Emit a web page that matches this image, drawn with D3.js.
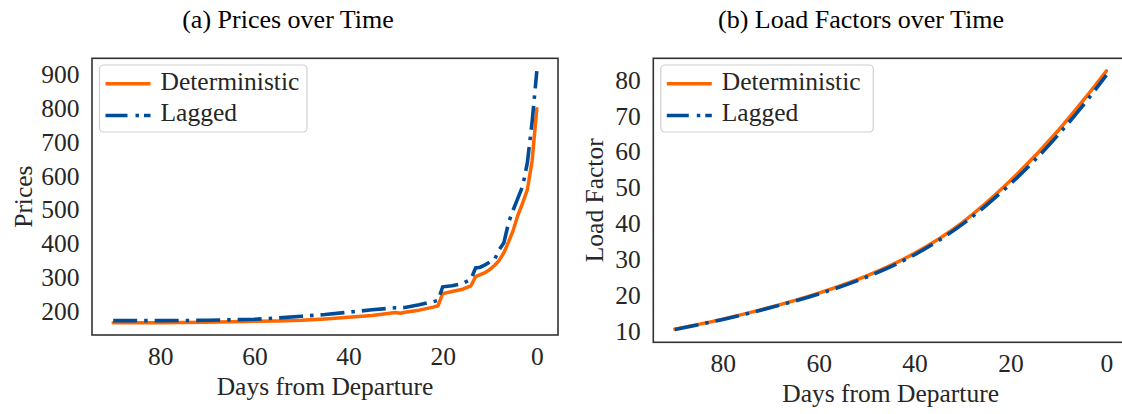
<!DOCTYPE html>
<html>
<head>
<meta charset="utf-8">
<script src="https://cdn.jsdelivr.net/npm/d3@7"></script>
<style>
  body { margin: 0; background: #fff; }
</style>
</head>
<body>
<svg id="chart" width="1122" height="414"></svg>
<script>
// prices
const priceDays = [90, 80, 70, 60, 55, 50, 45, 40, 35, 30, 29, 28, 25, 22, 21, 20, 18, 16, 14, 13, 12, 11, 10, 9, 8, 7, 6, 5, 4, 3, 2, 1, 0];
const priceDeterministic = [166, 166, 167, 170, 171, 173, 177, 182, 187, 196, 194, 197, 203, 212, 216, 252, 258, 264, 275, 302, 308, 314, 323, 335, 350, 373, 405, 440, 485, 520, 560, 645, 799];
const priceLagged = [172, 172, 173, 176, 180, 185, 190, 197, 204, 210, 210, 211, 219, 228, 232, 272, 275, 281, 294, 328, 330, 337, 345, 352, 382, 402, 462, 500, 535, 570, 640, 760, 910];
const priceTicks = [200, 300, 400, 500, 600, 700, 800, 900];

// load factors
const lfDays = [90, 80, 70, 60, 50, 40, 30, 20, 10, 5, 0];
const lfDeterministic = [10.7, 13.5, 16.8, 20.7, 25.5, 31.8, 40.4, 52.0, 66.0, 74.0, 82.5];
const lfLagged = [10.6, 13.4, 16.7, 20.5, 25.2, 31.4, 39.9, 51.1, 64.8, 72.7, 81.3];
const lfTicks = [10, 20, 30, 40, 50, 60, 70, 80];

const dayTicks = [80, 60, 40, 20, 0];
const seriesNames = ["Deterministic", "Lagged"];

const serif = '"Liberation Serif", "DejaVu Serif", serif';
const orange = "#ff6600";
const blue = "#004c99";
const ink = "#262626";
const dashDot = "24,7,3.5,7";

const svg = d3.select("svg#chart");
svg.append("rect").attr("width", 1122).attr("height", 414).attr("fill", "white");

function styleAxis(sel) {
  sel.select(".domain").remove();
  sel.attr("font-family", serif).attr("font-size", 25.5);
  sel.selectAll("text").attr("fill", ink);
}

function panel(cfg) {
  let g = svg.append("g");

  let x = d3.scaleLinear().domain([94.5, -4.5]).range([cfg.left, cfg.right]);
  let y = d3.scaleLinear().domain(cfg.yDomain).range([cfg.bottom, cfg.top]);

  g.append("g")
    .attr("transform", `translate(0,${cfg.bottom})`)
    .call(d3.axisBottom(x).tickValues(dayTicks).tickSize(0).tickPadding(12))
    .call(styleAxis);

  g.append("g")
    .attr("transform", `translate(${cfg.left},0)`)
    .call(d3.axisLeft(y).tickValues(cfg.yTicks).tickSize(0).tickPadding(12.5))
    .call(styleAxis);

  let line = d3.line()
    .x(d => x(d[0]))
    .y(d => y(d[1]))
    .curve(cfg.curve);

  // deterministic underneath, lagged on top
  g.append("path")
    .datum(d3.zip(cfg.days, cfg.det))
    .attr("d", line)
    .attr("fill", "none")
    .attr("stroke", orange)
    .attr("stroke-width", 3.5)
    .attr("stroke-linejoin", "round")
    .attr("stroke-linecap", "round");

  g.append("path")
    .datum(d3.zip(cfg.days, cfg.lag))
    .attr("d", line)
    .attr("fill", "none")
    .attr("stroke", blue)
    .attr("stroke-width", 3.6)
    .attr("stroke-dasharray", dashDot);

  // frame
  g.append("rect")
    .attr("x", cfg.left)
    .attr("y", cfg.top)
    .attr("width", cfg.right - cfg.left)
    .attr("height", cfg.bottom - cfg.top)
    .attr("fill", "none")
    .attr("stroke", "#333")
    .attr("stroke-width", 1.6);

  // legend
  let lx = cfg.left + 7.5;
  g.append("rect")
    .attr("x", lx)
    .attr("y", 65)
    .attr("width", cfg.legendW)
    .attr("height", 67)
    .attr("rx", 4)
    .attr("fill", "white")
    .attr("fill-opacity", 0.8)
    .attr("stroke", "#cfcfcf")
    .attr("stroke-width", 1.2);

  seriesNames.forEach(function(name, i) {
    let ry = 83.8 + i * 31.7;
    let s = g.append("line")
      .attr("x1", lx + 6)
      .attr("x2", lx + 51)
      .attr("y1", ry)
      .attr("y2", ry)
      .attr("stroke", i == 0 ? orange : blue)
      .attr("stroke-width", i == 0 ? 3.5 : 3.6);
    if (i == 1) s.attr("stroke-dasharray", "22,8,3.5,5");
    g.append("text")
      .attr("x", lx + 61)
      .attr("y", ry + 5.8)
      .attr("font-family", serif)
      .attr("font-size", 25.5)
      .attr("fill", ink)
      .text(name);
  });

  // titles and axis labels
  g.append("text")
    .attr("x", cfg.titleX)
    .attr("y", 27.5)
    .attr("text-anchor", "middle")
    .attr("font-family", serif)
    .attr("font-size", 26)
    .attr("fill", "black")
    .text(cfg.title);

  g.append("text")
    .attr("x", (cfg.left + cfg.right) / 2)
    .attr("y", cfg.bottom + 59.5)
    .attr("text-anchor", "middle")
    .attr("font-family", serif)
    .attr("font-size", 25.5)
    .attr("fill", ink)
    .text("Days from Departure");

  g.append("text")
    .attr("transform", `translate(${cfg.yLabelX},${(cfg.top + cfg.bottom) / 2}) rotate(-90)`)
    .attr("text-anchor", "middle")
    .attr("font-family", serif)
    .attr("font-size", 25.5)
    .attr("fill", ink)
    .text(cfg.yLabel);
}

panel({
  left: 92, right: 558, top: 58.3, bottom: 335,
  yDomain: [129.5, 948], yTicks: priceTicks,
  days: priceDays, det: priceDeterministic, lag: priceLagged,
  curve: d3.curveLinear,
  legendW: 207.5,
  title: "(a) Prices over Time", titleX: 288,
  yLabel: "Prices", yLabelX: 31.5
});

panel({
  left: 653.3, right: 1128, top: 58.3, bottom: 342.3,
  yDomain: [7.05, 86.0], yTicks: lfTicks,
  days: lfDays, det: lfDeterministic, lag: lfLagged,
  curve: d3.curveMonotoneX,
  legendW: 212.5,
  title: "(b) Load Factors over Time", titleX: 861,
  yLabel: "Load Factor", yLabelX: 603.3
});
</script>
</body>
</html>
